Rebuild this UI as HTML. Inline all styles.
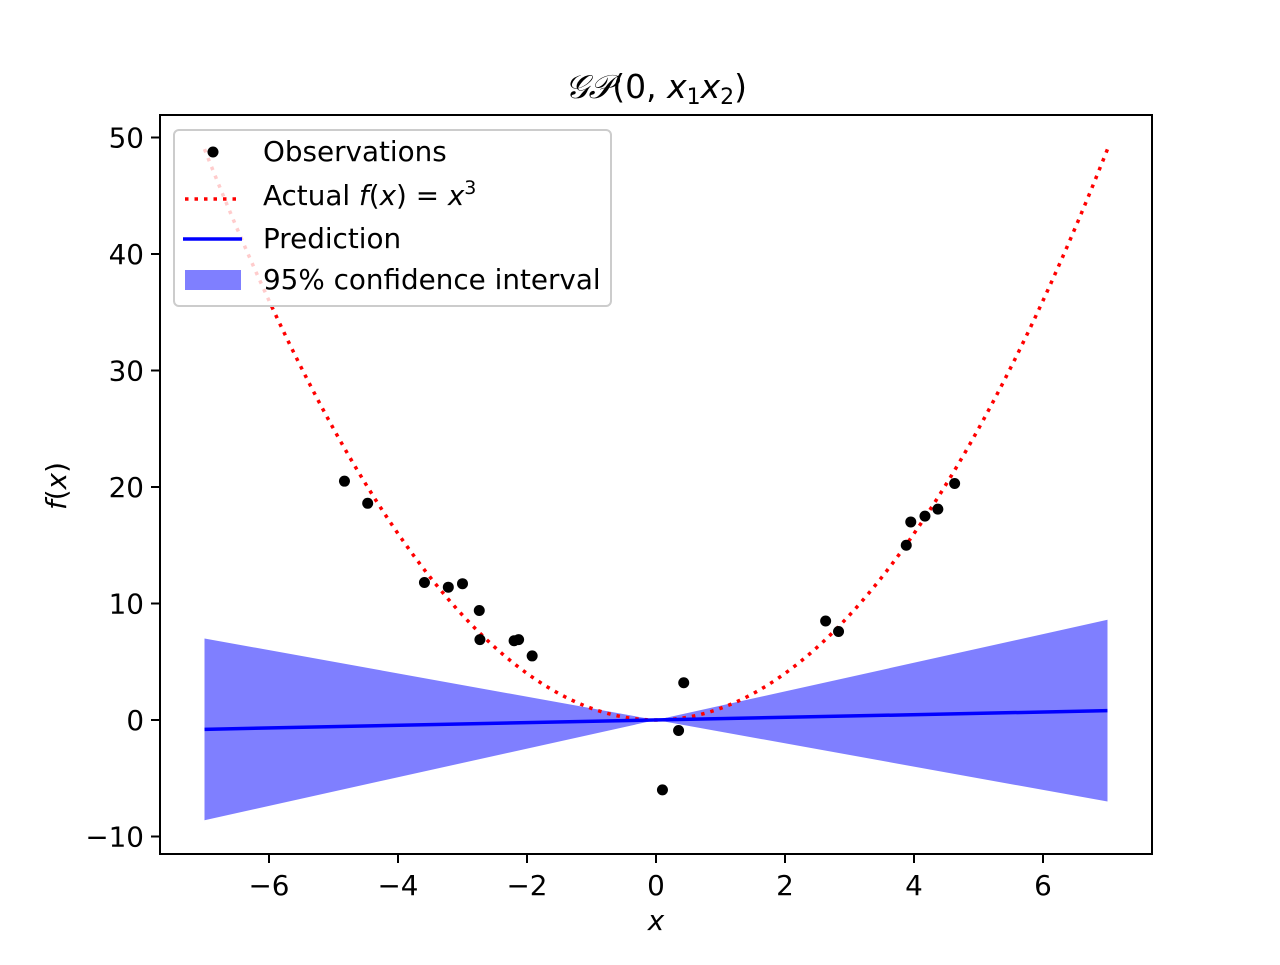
<!DOCTYPE html>
<html><head><meta charset="utf-8"><style>
body{margin:0;background:#fff}
svg text{font-family:"DejaVu Sans","Liberation Sans",sans-serif;fill:#000}
</style></head><body>
<svg id="chart" width="1280" height="960" xmlns="http://www.w3.org/2000/svg"></svg>
<script>
const obsX=[-4.83,-4.47,-3.59,-3.22,-3.0,-2.74,-2.73,-2.2,-2.13,-1.92,0.1,0.35,0.43,2.63,2.83,3.88,3.95,4.17,4.37,4.63];
const obsY=[20.5,18.6,11.8,11.4,11.7,9.4,6.9,6.8,6.9,5.5,-6.0,-0.9,3.2,8.5,7.6,15.0,17.0,17.5,18.1,20.3];
const predX=[-7,7];
const predY=[-0.8,0.8];
const bandX=[-7,0,7];
const bandUpper=[7.0,0,8.6];
const bandLower=[-8.6,0,-7.0];
const xTicks=[-6,-4,-2,0,2,4,6];
const yTicks=[-10,0,10,20,30,40,50];
const actualRange=[-7,7];

const NS="http://www.w3.org/2000/svg";
const svg=document.getElementById('chart');
const L=160,R=1152,T=115,B=854;
const sx=v=>656+v*64.5;
const sy=v=>720-v*11.65;
function el(tag,attrs,parent){const e=document.createElementNS(NS,tag);for(const k in attrs)e.setAttribute(k,attrs[k]);(parent||svg).appendChild(e);return e;}

// band
let pts=bandX.map((x,i)=>sx(x)+','+sy(bandUpper[i]));
for(let i=bandX.length-1;i>=0;i--)pts.push(sx(bandX[i])+','+sy(bandLower[i]));
const band=el('polygon',{points:pts.join(' '),fill:'#0000ff','fill-opacity':0.5,stroke:'none'});



// actual curve
let d='';const N=200;
for(let i=0;i<=N;i++){const x=actualRange[0]+(actualRange[1]-actualRange[0])*i/N;d+=(i?'L':'M')+sx(x)+','+sy(x*x);}
const act=el('path',{d:d,fill:'none',stroke:'#ff0000','stroke-width':3.5,'stroke-dasharray':'3.5,6'});



// prediction
const pred=el('polyline',{points:predX.map((x,i)=>sx(x)+','+sy(predY[i])).join(' '),fill:'none',stroke:'#0000ff','stroke-width':3.5});



// observations
obsX.forEach((x,i)=>{const c=el('circle',{cx:sx(x),cy:sy(obsY[i]),r:5.5,fill:'#000'});

});

// axes frame
const fr=el('rect',{x:L,y:T,width:R-L,height:B-T,fill:'none',stroke:'#000','stroke-width':2});



xTicks.forEach(v=>{el('line',{x1:sx(v),x2:sx(v),y1:B,y2:B+9,stroke:'#000','stroke-width':2});
const t=el('text',{x:sx(v),y:B+41,'text-anchor':'middle','font-size':27.8});t.textContent=(v<0?'\u2212'+(-v):v);

});
yTicks.forEach(v=>{el('line',{x1:L-9,x2:L,y1:sy(v),y2:sy(v),stroke:'#000','stroke-width':2});
const t=el('text',{x:L-16,y:sy(v)+10,'text-anchor':'end','font-size':27.8});t.textContent=(v<0?'\u2212'+(-v):v);

});
</script>
<svg style="position:absolute;left:0;top:0" width="1280" height="960" xmlns="http://www.w3.org/2000/svg">
<text x="656" y="98" text-anchor="middle" font-size="33" font-family="DejaVu Sans,sans-serif"><tspan font-family="DejaVu Serif,serif" font-style="italic">𝒢𝒫</tspan>(0, <tspan font-style="italic">x</tspan><tspan font-size="22" dy="6">1</tspan><tspan font-style="italic" dy="-6">x</tspan><tspan font-size="22" dy="6">2</tspan><tspan dy="-6">)</tspan></text>
<text x="656" y="930" text-anchor="middle" font-size="27.8" font-style="italic" font-family="DejaVu Sans,sans-serif">x</text>
<text x="0" y="0" transform="translate(66,486) rotate(-90)" text-anchor="middle" font-size="27.8" font-family="DejaVu Sans,sans-serif"><tspan font-style="italic">f</tspan>(<tspan font-style="italic">x</tspan>)</text>
<g font-family="DejaVu Sans,sans-serif" font-size="27.8">
<rect x="174" y="130" width="437" height="176" rx="5" fill="#fff" fill-opacity="0.8" stroke="#ccc" stroke-width="2"/>
<circle cx="213" cy="152" r="5.5" fill="#000"/>
<text x="263" y="161">Observations</text>
<line x1="185" x2="241" y1="199" y2="199" stroke="#f00" stroke-width="3.5" stroke-dasharray="3.5,6"/>
<text x="263" y="205">Actual <tspan font-style="italic">f</tspan>(<tspan font-style="italic">x</tspan>) = <tspan font-style="italic">x</tspan><tspan font-size="19" dy="-11">3</tspan></text>
<line x1="183" x2="242" y1="239" y2="239" stroke="#00f" stroke-width="3.5"/>
<text x="263" y="248">Prediction</text>
<rect x="185" y="270" width="56" height="20" fill="#0000ff" fill-opacity="0.5"/>
<text x="263" y="289">95% confidence interval</text>
</g>
</svg>
</body></html>
